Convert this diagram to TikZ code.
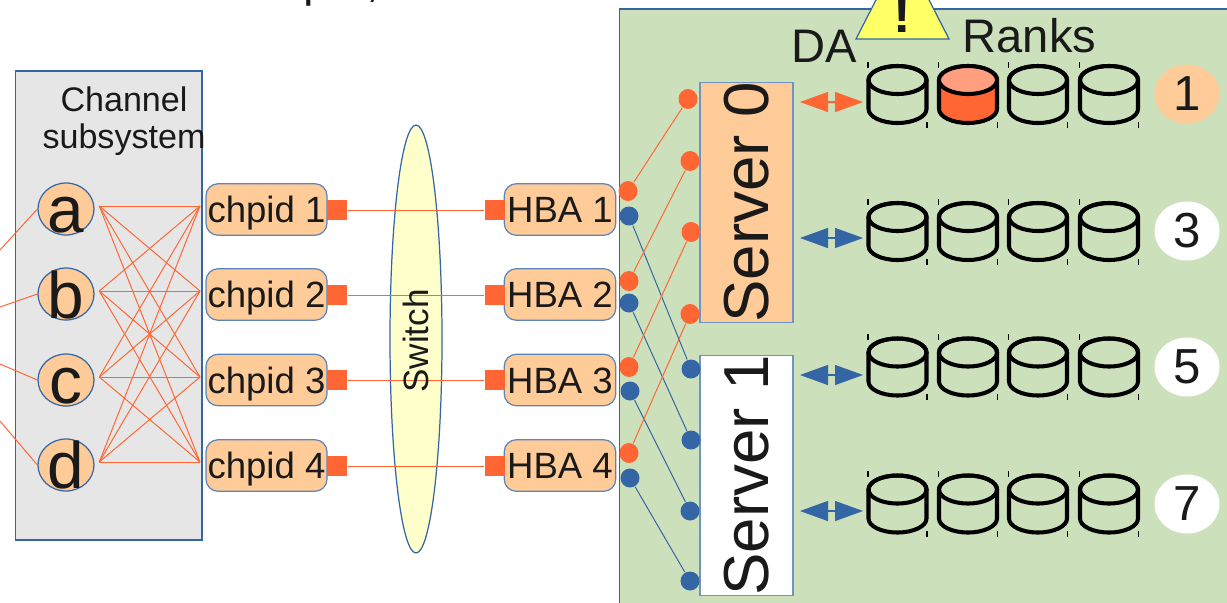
\documentclass[tikz,border=0pt]{standalone}
\usepackage{fontspec}
\setmainfont{Liberation Sans}
\usetikzlibrary{arrows.meta,shapes.geometric}
\definecolor{rustred}{HTML}{FF6633}
\definecolor{peach}{HTML}{FFCC99}
\definecolor{salmon}{HTML}{FF9F80}
\definecolor{linkblue}{HTML}{3465A4}
\definecolor{panelgreen}{HTML}{CDE0BC}
\definecolor{panelgrey}{HTML}{E6E6E6}
\definecolor{paleyellow}{HTML}{FFFFCC}
\definecolor{warnyellow}{HTML}{FFFF66}
\definecolor{inktext}{HTML}{1A1A1A}
\tikzset{
  every node/.style={text=inktext},
  panel/.style={draw=linkblue, line width=0.35pt},
  port/.style={shape=ellipse, draw=linkblue, line width=0.35pt, fill=peach, inner sep=0pt, minimum width=0.56cm, minimum height=0.52cm},
  porttext/.style={font=\fontsize{18.7}{20}\selectfont, inner sep=0pt, anchor=base},
  chbox/.style={shape=rectangle, draw=linkblue!80, line width=0.35pt, fill=peach, rounded corners=0.12cm, inner sep=0pt, minimum height=0.515cm, text height=0.26cm, text depth=0pt, font=\fontsize{10.4}{12}\selectfont},
  plug/.style={shape=rectangle, fill=rustred, inner sep=0pt, minimum size=0.2cm},
  redlink/.style={color=rustred, line width=0.28pt},
  bluelink/.style={color=linkblue, line width=0.28pt},
  reddot/.style={shape=ellipse, fill=rustred, inner sep=0pt, minimum width=0.19cm, minimum height=0.2cm},
  bluedot/.style={shape=ellipse, fill=linkblue, inner sep=0pt, minimum width=0.19cm, minimum height=0.19cm},
  srvbox/.style={shape=rectangle, draw=linkblue!70, line width=0.4pt, inner sep=0pt, rotate=90, minimum width=2.39cm, minimum height=0.93cm, font=\fontsize{18.1}{20}\selectfont},
  rowno/.style={shape=ellipse, inner sep=0pt, minimum width=0.65cm, minimum height=0.59cm, font=\fontsize{14}{15}\selectfont},
  bigtext/.style={font=\fontsize{13.4}{15}\selectfont, inner sep=0pt, anchor=base west},
  darrow/.style={{Triangle[length=0.28cm, width=0.2cm]}-{Triangle[length=0.28cm, width=0.2cm]}, line width=0.35pt},
  pics/rankdisk/.style n args={2}{code={
    \draw [line width=1.15pt, fill=#1] (-0.29, 0.145) -- (-0.29, -0.145) arc [start angle=180, end angle=360, x radius=0.29, y radius=0.14] -- (0.29, 0.145) arc [start angle=0, end angle=180, x radius=0.29, y radius=0.14] -- cycle;
    \draw [line width=1.15pt, fill=#2] (0, 0.145) circle [x radius=0.29, y radius=0.14];
    \draw [line width=0.3pt] (-0.295, 0.27) -- (-0.295, 0.33);
    \draw [line width=0.3pt] (0.295, -0.33) -- (0.295, -0.27);
  }}
}
\begin{document}
\begin{tikzpicture}
  \useasboundingbox (0, 0) rectangle (12.27, 6.02);

  % cut-off text at the top
  \node [bigtext] (cutp) at (3.03, 6.06) {p};
  \node [bigtext] (cutc) at (3.66, 6.06) {,};

  % channel subsystem
  \draw [panel, fill=panelgrey] (0.155, 0.62) rectangle (2.02, 5.31);
  \node [font=\fontsize{9.7}{10.5}\selectfont, align=center, inner sep=0pt] (chsub) at (1.24, 4.81) {Channel\\subsystem};

  \node [port] (a) at (0.66, 3.93) {};
  \node [port] (b) at (0.66, 3.08) {};
  \node [port] (c) at (0.66, 2.22) {};
  \node [port] (d) at (0.66, 1.37) {};
  \node [porttext] (atext) at (0.655, 3.694) {a};
  \node [porttext] (btext) at (0.655, 2.84) {b};
  \node [porttext] (ctext) at (0.655, 1.99) {c};
  \node [porttext] (dtext) at (0.655, 1.14) {d};

  \coordinate (stuba) at (0, 3.52);
  \coordinate (stubb) at (0, 2.95);
  \coordinate (stubc) at (0, 2.38);
  \coordinate (stubd) at (0, 1.81);
  \foreach \p in {a, b, c, d}
    \draw [redlink] (stub\p) -- (\p.west);

  \coordinate (outa) at (0.993, 3.96);
  \coordinate (outb) at (0.993, 3.11);
  \coordinate (outc) at (0.993, 2.25);
  \coordinate (outd) at (0.993, 1.40);
  \coordinate (in1) at (2.00, 3.96);
  \coordinate (in2) at (2.00, 3.11);
  \coordinate (in3) at (2.00, 2.25);
  \coordinate (in4) at (2.00, 1.40);
  \foreach \p in {a, b, c, d}
    \foreach \q in {1, 2, 3, 4}
      \draw [redlink] (out\p) -- (in\q);

  % chpids
  \node [chbox, minimum width=1.21cm] (chpid1) at (2.665, 3.925) {chpid 1};
  \node [chbox, minimum width=1.21cm] (chpid2) at (2.665, 3.075) {chpid 2};
  \node [chbox, minimum width=1.21cm] (chpid3) at (2.665, 2.22) {chpid 3};
  \node [chbox, minimum width=1.21cm] (chpid4) at (2.665, 1.365) {chpid 4};
  \node [plug] (cplug1) at (3.37, 3.92) {};
  \node [plug] (cplug2) at (3.37, 3.07) {};
  \node [plug] (cplug3) at (3.37, 2.22) {};
  \node [plug] (cplug4) at (3.37, 1.36) {};

  % switch
  \node [shape=ellipse, draw=linkblue, line width=0.35pt, fill=paleyellow, inner sep=0pt, minimum width=0.52cm, minimum height=4.28cm] (switch) at (4.16, 2.63) {};

  % HBAs
  \node [chbox, minimum width=1.115cm] (hba1) at (5.60, 3.925) {HBA 1};
  \node [chbox, minimum width=1.115cm] (hba2) at (5.60, 3.075) {HBA 2};
  \node [chbox, minimum width=1.115cm] (hba3) at (5.60, 2.22) {HBA 3};
  \node [chbox, minimum width=1.115cm] (hba4) at (5.60, 1.365) {HBA 4};
  \node [plug] (hplug1) at (4.95, 3.92) {};
  \node [plug] (hplug2) at (4.95, 3.07) {};
  \node [plug] (hplug3) at (4.95, 2.22) {};
  \node [plug] (hplug4) at (4.95, 1.36) {};

  \draw [redlink] (cplug1) -- (hplug1);
  \draw [redlink] (cplug2) -- (hplug2);
  \draw [redlink] (cplug3) -- (hplug3);
  \draw [redlink] (cplug4) -- (hplug4);
  \node [rotate=90, font=\fontsize{10}{12}\selectfont, inner sep=0pt] (switchtext) at (4.16, 2.61) {Switch};

  % storage panel
  \draw [panel, line width=0.45pt, fill=panelgreen] (6.195, -0.2) rectangle (12.5, 5.93);
  \draw [panel, fill=warnyellow] (8.56, 5.63) -- (9.025, 6.54) -- (9.49, 5.63) -- cycle;
  \node [font=\bfseries\fontsize{15}{15}\selectfont, inner sep=0pt, anchor=base] (warn) at (9.02, 5.70) {!};
  \node [bigtext] (datext) at (7.91, 5.40) {DA};
  \node [bigtext] (rankstext) at (9.62, 5.50) {Ranks};

  \node [srvbox, fill=peach] (srv0) at (7.465, 3.995) {Server 0};
  \node [srvbox, fill=white] (srv1) at (7.465, 1.265) {Server 1};

  % paths from the HBAs to the servers
  \node [reddot] (hr1) at (6.28, 4.11) {};
  \node [reddot] (hr2) at (6.29, 3.21) {};
  \node [reddot] (hr3) at (6.29, 2.35) {};
  \node [reddot] (hr4) at (6.29, 1.49) {};
  \node [bluedot] (hb1) at (6.29, 3.86) {};
  \node [bluedot] (hb2) at (6.29, 2.99) {};
  \node [bluedot] (hb3) at (6.30, 2.11) {};
  \node [bluedot] (hb4) at (6.30, 1.24) {};
  \node [reddot] (sr1) at (6.88, 5.03) {};
  \node [reddot] (sr2) at (6.90, 4.41) {};
  \node [reddot] (sr3) at (6.91, 3.70) {};
  \node [reddot] (sr4) at (6.90, 2.88) {};
  \node [bluedot] (sb1) at (6.91, 2.33) {};
  \node [bluedot] (sb2) at (6.91, 1.62) {};
  \node [bluedot] (sb3) at (6.90, 0.91) {};
  \node [bluedot] (sb4) at (6.90, 0.21) {};
  \foreach \n in {1, 2, 3, 4} {
    \draw [redlink] (hr\n) -- (sr\n);
    \draw [bluelink] (hb\n) -- (sb\n);
  }

  % ranks
  \foreach \y in {3.705, 2.35, 0.98}
    \foreach \x in {8.975, 9.68, 10.38, 11.09}
      \pic at (\x, \y) {rankdisk={none}{none}};
  \pic at (8.975, 5.075) {rankdisk={none}{none}};
  \pic at (9.68, 5.075) {rankdisk={rustred}{salmon}};
  \pic at (10.38, 5.075) {rankdisk={none}{none}};
  \pic at (11.09, 5.075) {rankdisk={none}{none}};

  \node [rowno, fill=peach] (row1) at (11.87, 5.08) {1};
  \node [rowno, fill=white] (row3) at (11.87, 3.71) {3};
  \node [rowno, fill=white] (row5) at (11.87, 2.35) {5};
  \node [rowno, fill=white] (row7) at (11.87, 0.98) {7};

  \coordinate (da0) at (8.00, 5.00);
  \coordinate (dr0) at (8.63, 5.00);
  \coordinate (da1) at (8.00, 3.64);
  \coordinate (dr1) at (8.63, 3.64);
  \coordinate (da2) at (8.00, 2.27);
  \coordinate (dr2) at (8.63, 2.27);
  \coordinate (da3) at (8.00, 0.91);
  \coordinate (dr3) at (8.63, 0.91);
  \draw [darrow, color=rustred] (da0) -- (dr0);
  \draw [darrow, color=linkblue] (da1) -- (dr1);
  \draw [darrow, color=linkblue] (da2) -- (dr2);
  \draw [darrow, color=linkblue] (da3) -- (dr3);
\end{tikzpicture}
\end{document}
